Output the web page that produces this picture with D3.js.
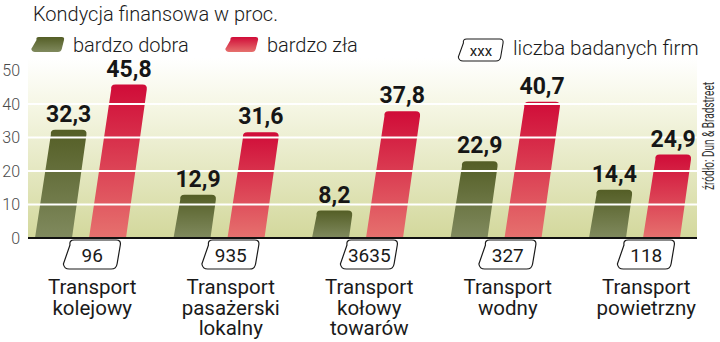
<!DOCTYPE html>
<html>
<head>
<meta charset="utf-8">
<script src="https://cdn.jsdelivr.net/npm/d3@7"></script>
<style>
  html, body { margin: 0; padding: 0; background: #fff; }
  svg { display: block; }
</style>
</head>
<body>
<svg id="chart" width="720" height="342"></svg>
<script>
// Financial condition of transport companies, share in percent
const categories = [
  ["Transport", "kolejowy"],
  ["Transport", "pasażerski", "lokalny"],
  ["Transport", "kołowy", "towarów"],
  ["Transport", "wodny"],
  ["Transport", "powietrzny"]
];
const seriesNames = ["bardzo dobra", "bardzo zła"];
const veryGood = [32.3, 12.9, 8.2, 22.9, 14.4];
const veryBad = [45.8, 31.6, 37.8, 40.7, 24.9];
const firmCounts = [96, 935, 3635, 327, 118];
const yTicks = [0, 10, 20, 30, 40, 50];

const svg = d3.select("#chart");
const plotLeft = 28, plotRight = 697, baseY = 238;
const slant = 0.14; // horizontal lean of bars per pixel of height
const FONT = "Roboto, 'Liberation Sans', sans-serif";

const fmt = d3.formatLocale({ decimal: ",", thousands: " ", grouping: [3], currency: ["", " zł"] }).format(".1f");

const y = d3.scaleLinear().domain([0, 50]).range([baseY, 70.5]);
const catIdx = d3.range(categories.length);
const x = d3.scaleBand().domain(catIdx).range([26, 718.5]).padding(0);
const xSub = d3.scaleBand().domain([0, 1]).range([9, 100]).paddingInner(0.315).paddingOuter(0);

const defs = svg.append("defs");
const bg = defs.append("linearGradient").attr("id", "bgGrad").attr("x1", 0).attr("y1", 0).attr("x2", 0).attr("y2", 1);
bg.append("stop").attr("offset", "0").attr("stop-color", "#ffffff");
bg.append("stop").attr("offset", "0.25").attr("stop-color", "#f6f7e6");
bg.append("stop").attr("offset", "1").attr("stop-color", "#d3d89c");

const gGreen = defs.append("linearGradient").attr("id", "gGreen").attr("x1", 0).attr("y1", 0).attr("x2", 0).attr("y2", 1);
gGreen.append("stop").attr("offset", "0").attr("stop-color", "#545e26");
gGreen.append("stop").attr("offset", "1").attr("stop-color", "#808a5e");
const gRed = defs.append("linearGradient").attr("id", "gRed").attr("x1", 0).attr("y1", 0).attr("x2", 0).attr("y2", 1);
gRed.append("stop").attr("offset", "0").attr("stop-color", "#d00c38");
gRed.append("stop").attr("offset", "1").attr("stop-color", "#e6716e");
const fills = ["url(#gGreen)", "url(#gRed)"];

// plot background
svg.append("rect")
  .attr("x", plotLeft).attr("y", 58)
  .attr("width", plotRight - plotLeft).attr("height", baseY - 58)
  .attr("fill", "url(#bgGrad)");

// slanted shape with rounded corners (top only, or all four)
function leanPath(bx, by, w, h, k, r, roundBottom) {
  const s = k * h;
  const tl = [bx + s, by - h], tr = [bx + s + w, by - h];
  const bl = [bx, by], br = [bx + w, by];
  const p = d3.path();
  if (roundBottom) {
    p.moveTo(bl[0] + r, bl[1]);
    p.lineTo(br[0] - r, br[1]);
    p.quadraticCurveTo(br[0], br[1], br[0] + k * r, br[1] - r);
  } else {
    p.moveTo(bl[0], bl[1]);
    p.lineTo(br[0], br[1]);
  }
  p.lineTo(tr[0] - k * r, tr[1] + r);
  p.quadraticCurveTo(tr[0], tr[1], tr[0] - r, tr[1]);
  p.lineTo(tl[0] + r, tl[1]);
  p.quadraticCurveTo(tl[0], tl[1], tl[0] + k * r, tl[1] + r);
  if (roundBottom) {
    p.lineTo(bl[0] - k * r, bl[1] - r);
    p.quadraticCurveTo(bl[0], bl[1], bl[0] + r, bl[1]);
  } else {
    p.lineTo(bl[0], bl[1]);
  }
  p.closePath();
  return p.toString();
}

// bars
const rows = [];
catIdx.forEach(i => {
  [veryGood[i], veryBad[i]].forEach((v, s) => rows.push({ i, s, v }));
});
const barW = xSub.bandwidth();
const barLeft = d => x(d.i) + xSub(d.s);
const barH = d => baseY - y(d.v);

svg.append("g").selectAll("path")
  .data(rows)
  .join("path")
  .attr("d", d => leanPath(barLeft(d), baseY, barW, barH(d), slant, 5, false))
  .attr("fill", d => fills[d.s]);

// gridlines drawn across the bars
svg.append("g").selectAll("line")
  .data(yTicks.filter(t => t > 0 && t < 50))
  .join("line")
  .attr("x1", plotLeft).attr("x2", plotRight)
  .attr("y1", d => y(d)).attr("y2", d => y(d))
  .attr("stroke", "#ffffff").attr("stroke-width", 1.8);

// value labels above the bars
svg.append("g").selectAll("text")
  .data(rows)
  .join("text")
  .attr("x", d => barLeft(d) + slant * barH(d) + barW / 2)
  .attr("y", d => y(d.v) - 8)
  .attr("text-anchor", "middle")
  .attr("font-family", FONT)
  .attr("font-weight", 700)
  .attr("font-size", 23)
  .attr("fill", "#161616")
  .text(d => fmt(d.v));

// y axis labels
const yAxis = d3.axisLeft(y).tickValues(yTicks).tickSize(0).tickPadding(0).tickFormat(d3.format("d"));
const yg = svg.append("g").attr("transform", "translate(20,0)").call(yAxis);
yg.select(".domain").remove();
yg.selectAll("text")
  .attr("font-family", FONT)
  .attr("font-weight", 300)
  .attr("font-size", 16)
  .attr("fill", "#4a4a4a");

// baseline
svg.append("line")
  .attr("x1", plotLeft).attr("x2", plotRight)
  .attr("y1", baseY).attr("y2", baseY)
  .attr("stroke", "#111").attr("stroke-width", 2.2);

// firm count boxes
const boxW = 52, boxH = 29, boxTop = 240;
const groupCenter = i => x(i) + x.bandwidth() / 2 - 3;
catIdx.forEach(i => {
  const cx = groupCenter(i);
  const bx = cx - boxW / 2 - slant * boxH / 2;
  svg.append("path")
    .attr("d", leanPath(bx, boxTop + boxH, boxW, boxH, 0.17, 5, true))
    .attr("fill", "#fff").attr("stroke", "#1a1a1a").attr("stroke-width", 1.2);
  svg.append("text")
    .attr("x", cx).attr("y", boxTop + boxH / 2 + 7)
    .attr("text-anchor", "middle")
    .attr("font-family", FONT)
    .attr("font-size", 19)
    .attr("fill", "#1a1a1a")
    .text(firmCounts[i]);
});

// category labels
catIdx.forEach(i => {
  const cx = groupCenter(i);
  const t = svg.append("text")
    .attr("text-anchor", "middle")
    .attr("font-family", FONT)
    .attr("font-size", 20.5)
    .attr("fill", "#1a1a1a");
  categories[i].forEach((line, j) => {
    t.append("tspan").attr("x", cx).attr("y", 294 + j * 20.5).text(line);
  });
});

// title
svg.append("text")
  .attr("x", 33).attr("y", 21)
  .attr("font-family", FONT)
  .attr("font-weight", 300)
  .attr("font-size", 20)
  .attr("fill", "#1a1a1a")
  .text("Kondycja finansowa w proc.");

// legend
const legend = [
  { x: 32, name: seriesNames[0], fill: fills[0] },
  { x: 226, name: seriesNames[1], fill: fills[1] }
];
legend.forEach(l => {
  svg.append("path")
    .attr("d", leanPath(l.x, 52, 29, 15, 0.25, 3, true))
    .attr("fill", l.fill);
  svg.append("text")
    .attr("x", l.x + 41).attr("y", 52)
    .attr("font-family", FONT)
    .attr("font-weight", 300)
    .attr("font-size", 20)
    .attr("fill", "#1a1a1a")
    .text(l.name);
});
svg.append("path")
  .attr("d", leanPath(459, 61, 41, 22, 0.17, 4, true))
  .attr("fill", "#fff").attr("stroke", "#1a1a1a").attr("stroke-width", 1.1);
svg.append("text")
  .attr("x", 481).attr("y", 56)
  .attr("text-anchor", "middle")
  .attr("font-family", FONT)
  .attr("font-size", 15)
  .attr("fill", "#1a1a1a")
  .text("xxx");
svg.append("text")
  .attr("x", 513).attr("y", 55)
  .attr("font-family", FONT)
  .attr("font-weight", 300)
  .attr("font-size", 20.5)
  .attr("fill", "#1a1a1a")
  .text("liczba badanych firm");

// source, rotated
svg.append("text")
  .attr("transform", "translate(714,190) rotate(-90)")
  .attr("font-family", FONT)
  .attr("font-weight", 400)
  .attr("font-size", 16)
  .attr("fill", "#333")
  .attr("textLength", 108)
  .attr("lengthAdjust", "spacingAndGlyphs")
  .text("źródło: Dun & Bradstreet");
</script>
</body>
</html>
